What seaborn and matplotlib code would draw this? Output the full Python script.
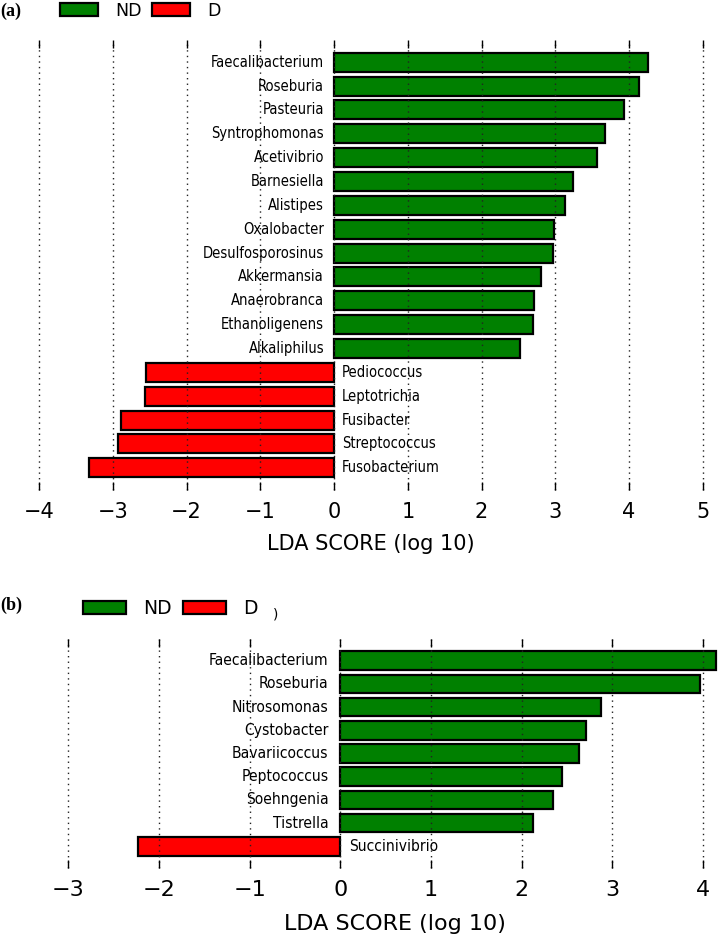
"""
LEfSe LDA score bar charts, ND vs D, two panels
"""

import matplotlib
matplotlib.use("Agg")
import matplotlib.pyplot as plt
from matplotlib.patches import Patch
import seaborn as sns
import pandas as pd

# panel (a)
taxa_a = ['Faecalibacterium', 'Roseburia', 'Pasteuria', 'Syntrophomonas', 'Acetivibrio',
          'Barnesiella', 'Alistipes', 'Oxalobacter', 'Desulfosporosinus', 'Akkermansia',
          'Anaerobranca', 'Ethanoligenens', 'Alkaliphilus', 'Pediococcus', 'Leptotrichia',
          'Fusibacter', 'Streptococcus', 'Fusobacterium']
lda_a = [4.26, 4.14, 3.93, 3.67, 3.57, 3.24, 3.13, 2.98, 2.97, 2.80,
         2.71, 2.70, 2.52, -2.55, -2.57, -2.89, -2.93, -3.33]
ticks_a = [-4, -3, -2, -1, 0, 1, 2, 3, 4, 5]

# panel (b)
taxa_b = ['Faecalibacterium', 'Roseburia', 'Nitrosomonas', 'Cystobacter', 'Bavariicoccus',
          'Peptococcus', 'Soehngenia', 'Tistrella', 'Succinivibrio']
lda_b = [4.14, 3.97, 2.87, 2.71, 2.63, 2.45, 2.34, 2.13, -2.23]
ticks_b = [-3, -2, -1, 0, 1, 2, 3, 4]

groups = ['ND', 'D']
colors = {'ND': '#008000', 'D': '#FF0000'}

W, H = 719, 941


def _frame(taxa, lda):
    return pd.DataFrame({
        'taxon': taxa,
        'lda': lda,
        'group': ['ND' if v > 0 else 'D' for v in lda],
    })


def _draw_panel(fig, rect, df, ticks, xlim, sizes, label_gap):
    """rect in pixels: left, top, right, bottom"""
    l, t, r, b = rect
    ax = fig.add_axes([l / W, 1 - b / H, (r - l) / W, (b - t) / H])
    sns.barplot(data=df, x='lda', y='taxon', hue='group', palette=colors,
                hue_order=groups, dodge=False, orient='h', width=0.8, saturation=1,
                edgecolor='black', linewidth=1.6, legend=False, ax=ax)

    n = len(df)
    ax.set_ylim(n - 1 + 0.93, -0.93)
    ax.set_xlim(*xlim)
    ax.set_xticks(ticks)
    ax.set_yticks([])
    ax.set_ylabel('')
    for s in ax.spines.values():
        s.set_visible(False)
    ax.tick_params(axis='x', direction='in', top=True, bottom=True, length=6,
                   width=1, color='black', labelcolor='black',
                   labelsize=sizes['tick'], pad=sizes['pad'])
    ax.xaxis.grid(True, linestyle=(0, (1, 3)), color='#222222', linewidth=1)
    for gl in ax.get_xgridlines():
        gl.set_clip_on(False)
    ax.set_axisbelow(False)
    ax.set_xlabel('LDA SCORE (log 10)', fontsize=sizes['xlabel'], labelpad=sizes['labelpad'],
                  color='black')

    for i, (name, v) in enumerate(zip(df['taxon'], df['lda'])):
        if v > 0:
            ax.annotate(name, (0, i), xytext=(-label_gap[0], 0), textcoords='offset pixels',
                        ha='right', va='center', fontsize=sizes['name'], color='black',
                        fontstretch='condensed')
        else:
            ax.annotate(name, (0, i), xytext=(label_gap[1], 0), textcoords='offset pixels',
                        ha='left', va='center', fontsize=sizes['name'], color='black',
                        fontstretch='condensed')
    return ax


def _legend(fig, x, y, fs, hl, hh, tp, cs):
    handles = [Patch(facecolor=colors[g], edgecolor='black', linewidth=1.6, label=g) for g in groups]
    leg = fig.legend(handles=handles, loc='center left', bbox_to_anchor=(x / W, 1 - y / H),
                     ncol=2, frameon=False, fontsize=fs, handlelength=hl, handleheight=hh,
                     handletextpad=tp, columnspacing=cs, borderpad=0, borderaxespad=0)
    for txt in leg.get_texts():
        txt.set_color('black')


def main():
    sns.set_style('white')
    plt.rcParams['font.family'] = ['DejaVu Sans']
    fig = plt.figure(figsize=(W / 100, H / 100), dpi=100)

    _draw_panel(fig, (39.2, 40, 702.8, 490), _frame(taxa_a, lda_a), ticks_a, (-4, 5),
                {'tick': 15, 'pad': 9, 'xlabel': 15, 'labelpad': 8, 'name': 10.5}, (10, 8))
    _draw_panel(fig, (68.2, 639, 721.2, 868), _frame(taxa_b, lda_b), ticks_b, (-3, 4.2),
                {'tick': 16, 'pad': 8.5, 'xlabel': 16, 'labelpad': 10, 'name': 11.2}, (12, 9))

    _legend(fig, 60, 10.5, 12.5, 2.2, 0.75, 0.98, 0.57)
    _legend(fig, 83, 608.5, 13.5, 2.3, 0.7, 0.9, 0.62)

    fig.text(0, 1 - 11 / H, '(a)', family='Liberation Serif', fontweight='bold',
             fontsize=13, va='center', ha='left', color='black')
    fig.text(0, 1 - 605 / H, '(b)', family='Liberation Serif', fontweight='bold',
             fontsize=13, va='center', ha='left', color='black')
    fig.text(273 / W, 1 - 614 / H, ')', fontsize=10, va='center', ha='left', color='black')

    fig.savefig('out.png', dpi=100, facecolor='white')


if __name__ == "__main__":
    main()
